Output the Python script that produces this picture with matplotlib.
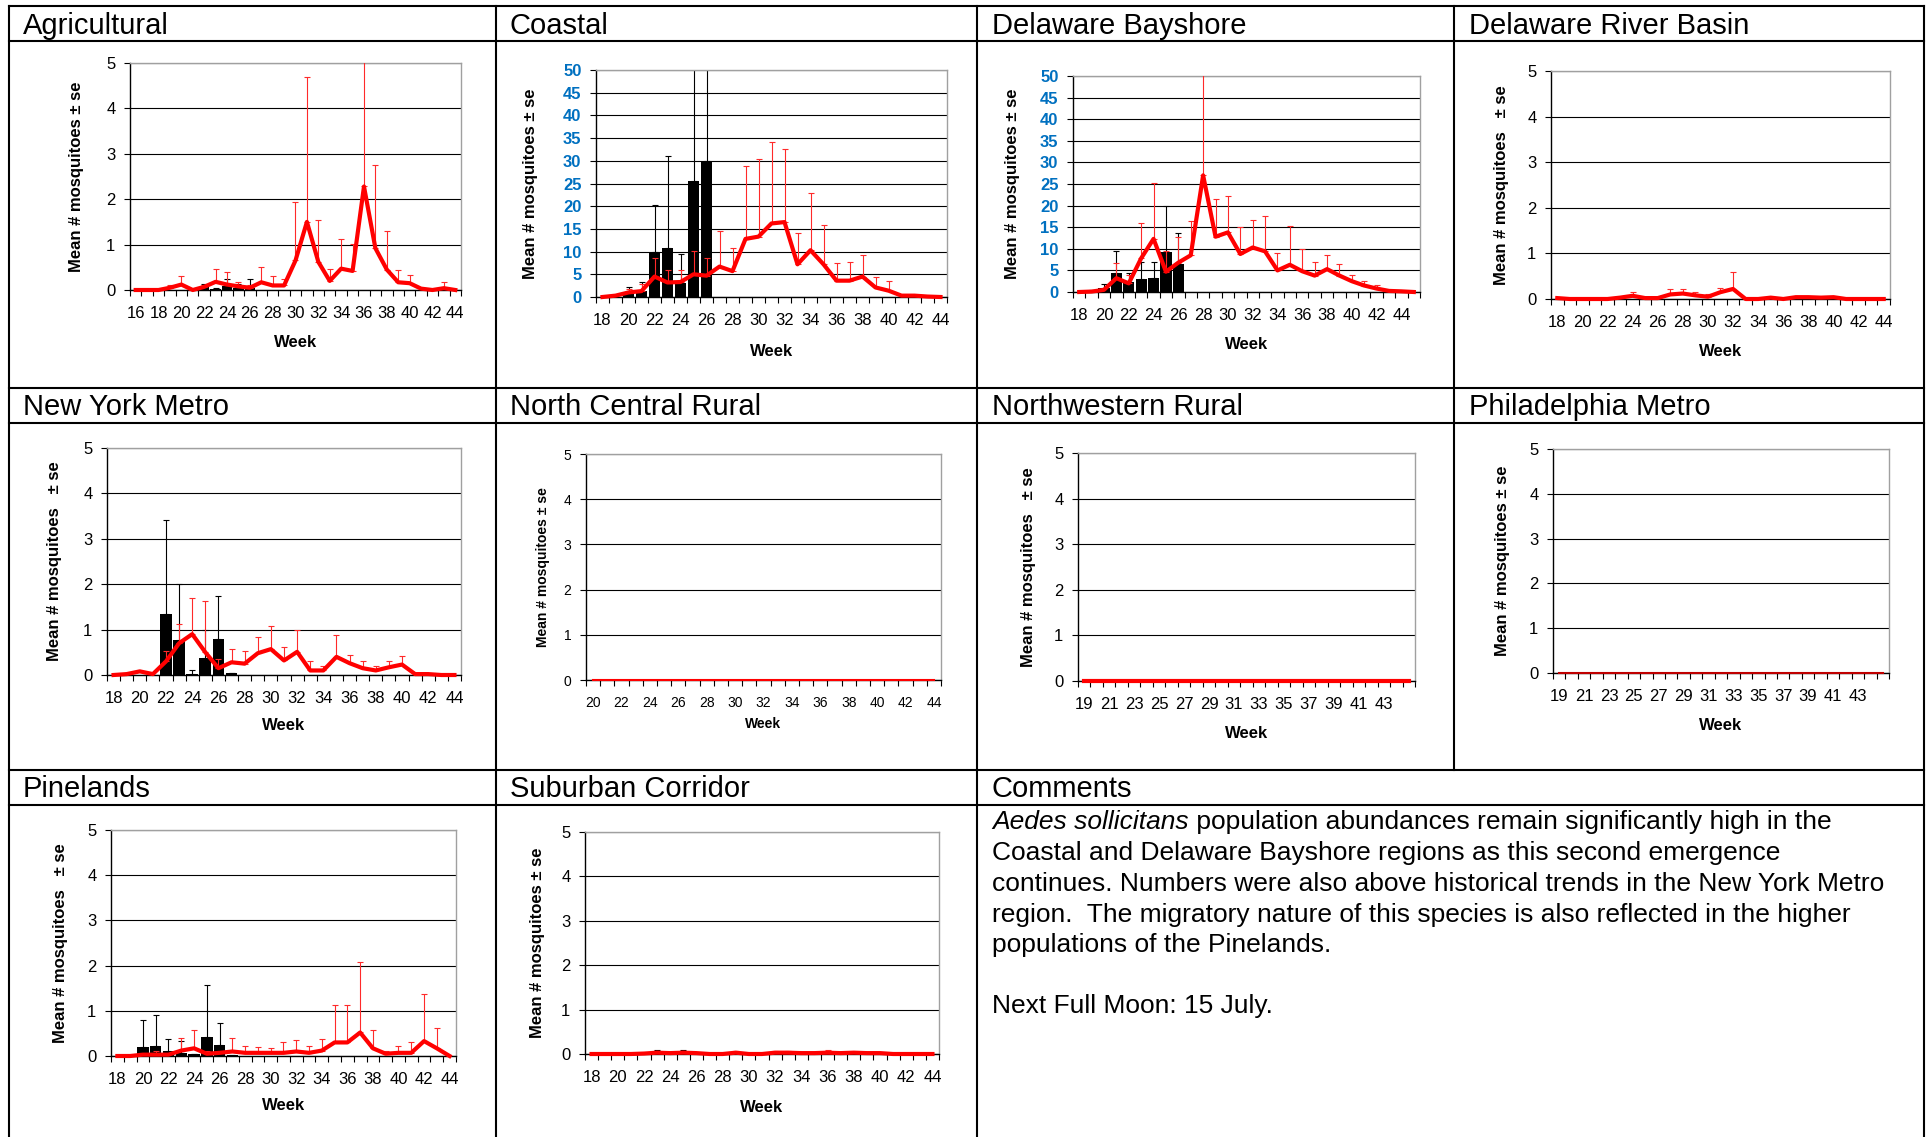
import numpy as np
import matplotlib
matplotlib.use("Agg")
import matplotlib.pyplot as plt
from matplotlib.lines import Line2D

plt.rcParams['font.family'] = ['Liberation Sans', 'DejaVu Sans']

W, H = 1931, 1137

# ---------------- data (mean per week, top of +se bar) ----------------
agr_weeks = list(range(16, 45))
agr_mean = [0, 0, 0, 0.05, 0.12, 0, 0.07, 0.18, 0.12, 0.08, 0.05, 0.17, 0.1, 0.1,
            0.65, 1.5, 0.62, 0.2, 0.47, 0.42, 2.28, 0.92, 0.45, 0.17, 0.15, 0.03, 0, 0.04, 0]
agr_hi = [0, 0, 0, 0.12, 0.3, 0, 0.12, 0.47, 0.4, 0.17, 0.1, 0.5, 0.3, 0.25,
          1.94, 4.7, 1.55, 0.47, 1.12, 1.02, 5.5, 2.75, 1.3, 0.44, 0.32, 0.03, 0, 0.17, 0]
agr_bar_weeks = [22, 23, 24, 25, 26]
agr_bar = [0.06, 0.03, 0.08, 0.05, 0.04]
agr_bar_hi = [0.14, 0.05, 0.24, 0.14, 0.24]

coa_weeks = list(range(18, 45))
coa_mean = [0, 0.3, 1.0, 1.3, 4.5, 3.2, 3.3, 5.0, 4.7, 6.7, 5.7, 12.8, 13.3, 16.2,
            16.5, 7.2, 10.3, 7.2, 3.6, 3.6, 4.5, 2.1, 1.4, 0.3, 0.3, 0.1, 0]
coa_hi = [0, 0.3, 1.8, 2.8, 8.7, 5.9, 6.0, 10.2, 8.7, 14.6, 10.7, 28.8, 30.5, 34.2,
          32.5, 14.0, 22.8, 15.8, 7.5, 7.7, 9.2, 4.4, 3.5, 0.3, 0.3, 0.1, 0]
coa_bar_weeks = [20, 21, 22, 23, 24, 25, 26]
coa_bar = [0.8, 1.3, 10.0, 10.7, 3.0, 25.5, 30.0]
coa_bar_hi = [2.1, 3.4, 20.3, 31.0, 9.5, 60.0, 60.0]

db_weeks = list(range(18, 46))
db_mean = [0, 0.1, 0.5, 3.2, 2.0, 7.8, 12.3, 4.7, 6.8, 8.5, 27.0, 12.8, 13.8, 8.8,
           10.3, 9.4, 5.0, 6.3, 4.8, 3.8, 5.3, 3.8, 2.5, 1.5, 0.8, 0.25, 0.15, 0]
db_hi = [0, 0.1, 0.5, 6.8, 4.0, 16.0, 25.3, 9.5, 12.8, 16.5, 52.0, 21.6, 22.3, 15.0,
         16.7, 17.5, 9.0, 15.3, 10.0, 7.0, 8.5, 6.5, 4.0, 2.6, 1.6, 0.25, 0.15, 0]
db_bar_weeks = [19, 20, 21, 22, 23, 24, 25, 26]
db_bar = [0.3, 1.0, 4.5, 2.3, 2.9, 3.2, 9.3, 6.4]
db_bar_hi = [0.4, 1.8, 9.6, 4.5, 7.0, 7.0, 19.8, 13.7]

drb_weeks = list(range(18, 45))
drb_mean = [0.02, 0, 0, 0, 0, 0.03, 0.07, 0.02, 0.02, 0.1, 0.12, 0.08, 0.05, 0.15,
            0.22, 0, 0, 0.03, 0, 0.04, 0.04, 0.03, 0.04, 0, 0, 0, 0]
drb_hi = [0.02, 0, 0, 0, 0, 0.03, 0.15, 0.02, 0.02, 0.22, 0.22, 0.15, 0.12, 0.25,
          0.6, 0, 0, 0.03, 0, 0.04, 0.04, 0.03, 0.04, 0, 0, 0, 0]

nym_weeks = list(range(18, 45))
nym_mean = [0, 0.02, 0.08, 0.02, 0.3, 0.7, 0.9, 0.5, 0.15, 0.28, 0.25, 0.48, 0.57, 0.32,
            0.51, 0.1, 0.1, 0.4, 0.26, 0.15, 0.1, 0.17, 0.23, 0.02, 0.02, 0, 0]
nym_hi = [0, 0.02, 0.08, 0.02, 0.53, 1.12, 1.7, 1.62, 0.35, 0.57, 0.52, 0.83, 1.07, 0.62,
          1.0, 0.3, 0.2, 0.88, 0.43, 0.3, 0.2, 0.3, 0.42, 0.02, 0.02, 0, 0]
nym_bar_weeks = [22, 23, 24, 25, 26, 27]
nym_bar = [1.35, 0.77, 0.03, 0.38, 0.8, 0.05]
nym_bar_hi = [3.42, 2.0, 0.1, 1.0, 1.75, 0.05]

ncr_weeks = list(range(20, 45))
ncr_mean = [0, 0, 0, 0, 0, 0, 0, 0, 0, 0, 0, 0, 0, 0, 0, 0, 0, 0, 0, 0, 0, 0, 0, 0, 0]

nwr_weeks = list(range(19, 46))
nwr_mean = [0, 0, 0, 0, 0, 0, 0, 0, 0, 0, 0, 0, 0, 0, 0, 0, 0, 0, 0, 0, 0, 0, 0, 0, 0, 0, 0]

phl_weeks = list(range(19, 46))
phl_mean = [0, 0, 0, 0, 0, 0, 0, 0, 0, 0, 0, 0, 0, 0, 0, 0, 0, 0, 0, 0, 0, 0, 0, 0, 0, 0, 0]

pin_weeks = list(range(18, 45))
pin_mean = [0, 0, 0.03, 0.03, 0.03, 0.12, 0.17, 0.05, 0.07, 0.1, 0.07, 0.07, 0.07, 0.07,
            0.1, 0.07, 0.12, 0.3, 0.3, 0.52, 0.17, 0.05, 0.07, 0.07, 0.33, 0.17, 0]
pin_hi = [0, 0, 0.03, 0.12, 0.03, 0.4, 0.58, 0.12, 0.12, 0.4, 0.22, 0.2, 0.18, 0.3,
          0.35, 0.22, 0.37, 1.12, 1.12, 2.08, 0.58, 0.12, 0.22, 0.32, 1.38, 0.63, 0]
pin_bar_weeks = [20, 21, 22, 23, 24, 25, 26, 27]
pin_bar = [0.2, 0.22, 0.1, 0.07, 0.04, 0.43, 0.25, 0.02]
pin_bar_hi = [0.8, 0.9, 0.37, 0.33, 0.04, 1.58, 0.72, 0.02]

sub_weeks = list(range(18, 45))
sub_mean = [0, 0, 0, 0, 0.01, 0.03, 0.02, 0.03, 0.02, 0, 0, 0.03, 0, 0,
            0.03, 0.03, 0.02, 0.02, 0.03, 0.02, 0.03, 0.02, 0.02, 0, 0, 0, 0]
sub_hi = [0, 0, 0, 0, 0.01, 0.03, 0.02, 0.03, 0.02, 0, 0, 0.07, 0, 0,
          0.06, 0.06, 0.02, 0.02, 0.1, 0.02, 0.03, 0.02, 0.02, 0, 0, 0, 0]
sub_bar_weeks = [23, 25]
sub_bar = [0.02, 0.02]
sub_bar_hi = [0.1, 0.1]

comment_lines = [
    "Coastal and Delaware Bayshore regions as this second emergence",
    "continues. Numbers were also above historical trends in the New York Metro",
    "region.  The migratory nature of this species is also reflected in the higher",
    "populations of the Pinelands.",
]

YLAB = "Mean # mosquitoes \u00b1 se"
YLAB_GAP = "Mean # mosquitoes   \u00b1 se"
BLUE = '#0070C0'


def fx(px):
    return px / W


def fy(py):
    return 1 - py / H


fig = plt.figure(figsize=(W / 100, H / 100), dpi=100)


def panel(box, weeks, label_weeks, mean, hi=None, bar_weeks=(), bar=(), bar_hi=(),
          ymax=5, ystep=1, ylabel=YLAB, ylabel_x=0, week_dy=52, fs=12,
          blue=False, line_lw=3.0, line_color='red'):
    x0, x1, y0, y1 = box
    ax = fig.add_axes([fx(x0), fy(y1), (x1 - x0) / W, (y1 - y0) / H])
    n = len(weeks)
    xs = np.arange(n)
    mean = np.array(mean, dtype=float)
    if len(bar_weeks):
        bx = np.array(bar_weeks) - weeks[0]
        b = np.array(bar, dtype=float)
        bh = np.array(bar_hi, dtype=float)
        ax.bar(bx, b, width=0.9, color='black', zorder=2)
        ax.errorbar(bx, b, yerr=[np.zeros_like(b), bh - b], fmt='none', ecolor='black',
                    elinewidth=0.8, capsize=2.5, capthick=0.8, zorder=2.5)
    if hi is not None:
        err = np.array(hi, dtype=float) - mean
        m = err > 0
        ax.errorbar(xs[m], mean[m], yerr=[np.zeros(m.sum()), err[m]], fmt='none',
                    ecolor='#ff2a2a', elinewidth=0.8, capsize=2.5, capthick=0.8, zorder=3)
    ax.plot(xs, mean, color=line_color, lw=line_lw, zorder=4, clip_on=False)

    ax.set_xlim(-0.5, n - 0.5)
    ax.set_ylim(0, ymax)
    ax.set_xticks([w - weeks[0] for w in label_weeks])
    ax.set_xticklabels([str(w) for w in label_weeks])
    ax.set_xticks(np.arange(-0.5, n, 1), minor=True)
    ax.tick_params(axis='x', which='major', length=0, pad=11.5, labelsize=fs)
    ax.tick_params(axis='x', which='minor', length=4, width=0.8, direction='out')
    ax.set_yticks(np.arange(0, ymax + ystep / 2, ystep))
    ax.tick_params(axis='y', length=4, width=0.8, pad=6.5, labelsize=fs)
    if blue:
        for lab in ax.get_yticklabels():
            lab.set_color(BLUE)
            lab.set_fontweight('bold')
    ax.yaxis.grid(True, color='black', lw=0.8)
    ax.set_axisbelow(True)
    for s in ['top', 'right']:
        ax.spines[s].set_color('#a0a0a0')
        ax.spines[s].set_linewidth(1.0)
    for s in ['left', 'bottom']:
        ax.spines[s].set_color('black')
        ax.spines[s].set_linewidth(1.0)

    fig.text(fx(ylabel_x), fy((y0 + y1) / 2), ylabel, rotation=90, ha='center',
             va='center', fontsize=fs, fontweight='bold')
    fig.text(fx((x0 + x1) / 2), fy(y1 + week_dy), 'Week', ha='center', va='center',
             fontsize=fs, fontweight='bold')
    return ax


# ---------------- table frame ----------------
cols = [9, 496, 977, 1454, 1924]
rows = [6, 41, 388, 423, 770, 805]


def hline(y, xa, xb):
    fig.add_artist(Line2D([fx(xa), fx(xb)], [fy(y), fy(y)], color='black', lw=1.5,
                          transform=fig.transFigure))


def vline(x, ya, yb):
    fig.add_artist(Line2D([fx(x), fx(x)], [fy(ya), fy(yb)], color='black', lw=1.5,
                          transform=fig.transFigure))


for r in rows:
    hline(r, cols[0], cols[-1])
for c in [cols[0], cols[1], cols[2], cols[4]]:
    vline(c, rows[0], H)
vline(cols[3], rows[0], rows[4])

titles = [
    ("Agricultural", 23, 34), ("Coastal", 510, 34), ("Delaware Bayshore", 992, 34),
    ("Delaware River Basin", 1469, 34),
    ("New York Metro", 23, 415), ("North Central Rural", 510, 415),
    ("Northwestern Rural", 992, 415), ("Philadelphia Metro", 1469, 415),
    ("Pinelands", 23, 797), ("Suburban Corridor", 510, 797), ("Comments", 992, 797),
]
for t, x, y in titles:
    fig.text(fx(x), fy(y), t, fontsize=21, va='baseline', ha='left')

# ---------------- panels ----------------
even18 = list(range(18, 45, 2))
panel((130, 461, 63, 290), agr_weeks, list(range(16, 45, 2)), agr_mean, agr_hi,
      agr_bar_weeks, agr_bar, agr_bar_hi, ylabel_x=77, week_dy=53)
panel((596, 947, 70, 297), coa_weeks, even18, coa_mean, coa_hi,
      coa_bar_weeks, coa_bar, coa_bar_hi, ymax=50, ystep=5, blue=True,
      ylabel_x=530, week_dy=55)
panel((1073, 1420, 76, 292), db_weeks, even18, db_mean, db_hi,
      db_bar_weeks, db_bar, db_bar_hi, ymax=50, ystep=5, blue=True,
      ylabel_x=1013, week_dy=53)
panel((1551, 1890, 71, 299), drb_weeks, even18, drb_mean, drb_hi,
      ylabel=YLAB_GAP, ylabel_x=1502, week_dy=52)

panel((107, 461, 448, 675), nym_weeks, even18, nym_mean, nym_hi,
      nym_bar_weeks, nym_bar, nym_bar_hi, ylabel=YLAB_GAP, ylabel_x=55, week_dy=51)
panel((586, 941, 454, 680), ncr_weeks, list(range(20, 45, 2)), ncr_mean,
      ylabel_x=543, week_dy=44, fs=10, line_lw=1.5)
panel((1078, 1415, 453, 681), nwr_weeks, list(range(19, 44, 2)), nwr_mean,
      ylabel=YLAB_GAP, ylabel_x=1029, week_dy=52, line_lw=3.0)
panel((1553, 1889, 449, 673), phl_weeks, list(range(19, 44, 2)), phl_mean,
      ylabel_x=1503, week_dy=52, line_lw=1.5, line_color='#c00000')

panel((111, 456, 830, 1056), pin_weeks, even18, pin_mean, pin_hi,
      pin_bar_weeks, pin_bar, pin_bar_hi, ylabel=YLAB_GAP, ylabel_x=61, week_dy=50)
panel((585, 939, 832, 1054), sub_weeks, even18, sub_mean, sub_hi,
      sub_bar_weeks, sub_bar, sub_bar_hi, ylabel_x=538, week_dy=53)

# ---------------- comments ----------------
t1 = fig.text(fx(992), fy(829), "Aedes sollicitans", fontsize=19, style='italic',
              va='baseline', ha='left')
fig.canvas.draw()
bb = t1.get_window_extent()
fig.text(bb.x1 / W, fy(829), " population abundances remain significantly high in the",
         fontsize=19, va='baseline', ha='left')
for i, line in enumerate(comment_lines):
    fig.text(fx(992), fy(860 + 30.8 * i), line, fontsize=19, va='baseline', ha='left')
fig.text(fx(992), fy(1013), "Next Full Moon: 15 July.", fontsize=19, va='baseline', ha='left')

fig.savefig("out.png", dpi=100)
